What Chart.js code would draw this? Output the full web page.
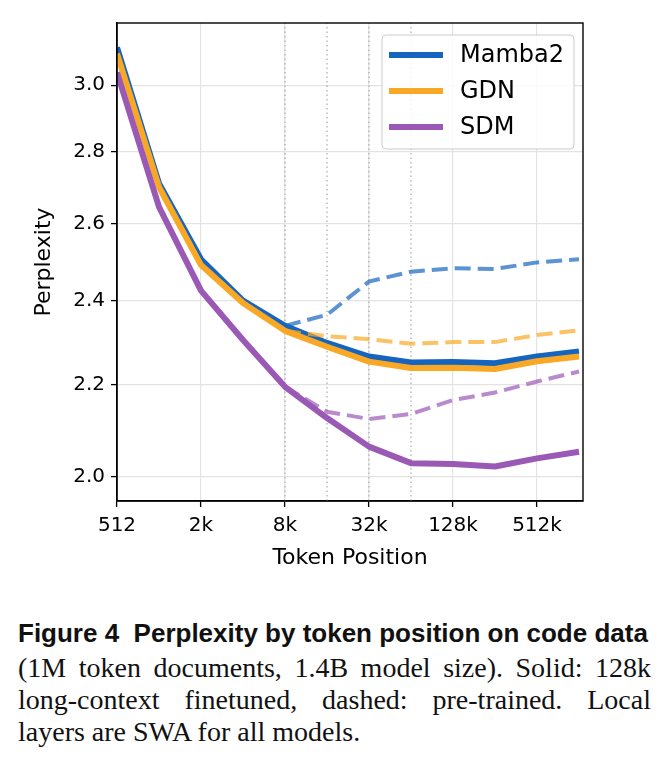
<!DOCTYPE html>
<html>
<head>
<meta charset="utf-8">
<script src="https://cdn.jsdelivr.net/npm/chart.js@4.4.1/dist/chart.umd.min.js"></script>
<style>
  html, body { margin: 0; padding: 0; background: #fff; }
  body { width: 668px; height: 763px; position: relative; overflow: hidden; }
  #chart { position: absolute; left: 0; top: 0; }
  .caption { position: absolute; left: 18px; width: 633px; color: #111; }
  .cap-title { top: 618px; font-family: 'Liberation Sans', Arial, sans-serif; font-weight: bold; font-size: 26px; white-space: pre; line-height: 30px; }
  .cap-body { top: 652px; font-family: 'Liberation Serif', 'Times New Roman', serif; font-size: 28px; line-height: 32px; }
  .cap-body div { text-align: justify; text-align-last: justify; white-space: nowrap; }
  .cap-body div.last { text-align-last: left; }
</style>
</head>
<body>
<canvas id="chart" width="668" height="590"></canvas>
<div class="caption cap-title">Figure 4  Perplexity by token position on code data</div>
<div class="caption cap-body">
  <div>(1M token documents, 1.4B model size). Solid: 128k</div>
  <div>long-context finetuned, dashed: pre-trained. Local</div>
  <div class="last">layers are SWA for all models.</div>
</div>
<script>
// posiciones de token (eje x, log2)
const positions = [512, 1024, 2048, 4096, 8192, 16384, 32768, 65536, 131072, 262144, 524288, 1048576];
// curvas finetuned (sólidas)
const mamba2Solid = [3.12, 2.71, 2.505, 2.400, 2.338, 2.297, 2.265, 2.251, 2.252, 2.249, 2.265, 2.277];
const gdnSolid    = [3.10, 2.70, 2.490, 2.394, 2.326, 2.288, 2.253, 2.238, 2.239, 2.236, 2.254, 2.265];
const sdmSolid    = [3.04, 2.645, 2.425, 2.304, 2.195, 2.125, 2.063, 2.028, 2.026, 2.021, 2.038, 2.052];
// curvas pre-entrenadas (discontinuas), desde 8k
const dashPositions = [8192, 16384, 32768, 65536, 131072, 262144, 524288, 1048576];
const mamba2Dashed = [2.338, 2.365, 2.448, 2.473, 2.482, 2.480, 2.497, 2.505];
const gdnDashed    = [2.326, 2.313, 2.306, 2.295, 2.299, 2.299, 2.316, 2.327];
const sdmDashed    = [2.195, 2.139, 2.123, 2.134, 2.165, 2.182, 2.207, 2.230];
// líneas punteadas verticales
const markerPositions = [8192, 16384, 32768, 65536];

const xTickValues = [512, 2048, 8192, 32768, 131072, 524288];
const xTickLabels = ['512', '2k', '8k', '32k', '128k', '512k'];
const yTickValues = [2.0, 2.2, 2.4, 2.6, 2.8, 3.0];
const yMin = 1.95, yMax = 3.2;
const xMin = 512, xMax = 1.12e6;

const seriesNames = ['Mamba2', 'GDN', 'SDM'];

const colors = {
    mamba2: '#1565c0',
    gdn: '#f9a825',
    sdm: '#9b59b6',
    mamba2Light: 'rgba(21, 101, 192, 0.7)',
    gdnLight: 'rgba(249, 168, 37, 0.7)',
    sdmLight: 'rgba(155, 89, 182, 0.7)'
};
const legendColors = [colors.mamba2, colors.gdn, colors.sdm];

function toPoints(xs, ys) {
    return xs.map((x, i) => ({ x: x, y: ys[i] }));
}

function solid(label, xs, ys, color, order) {
    return {
        label: label,
        data: toPoints(xs, ys),
        borderColor: color,
        borderWidth: 6,
        pointRadius: 0,
        borderJoinStyle: 'round',
        borderCapStyle: 'butt',
        tension: 0,
        order: order
    };
}

function dashed(label, xs, ys, color, order) {
    return {
        label: label,
        data: toPoints(xs, ys),
        borderColor: color,
        borderWidth: 4,
        borderDash: [16, 7],
        pointRadius: 0,
        borderCapStyle: 'butt',
        tension: 0,
        order: order
    };
}

const datasets = [];
markerPositions.forEach((p, i) => {
    datasets.push({
        label: 'marker' + i,
        data: [{ x: p, y: yMin }, { x: p, y: yMax }],
        borderColor: '#b0b0b0',
        borderWidth: 1.3,
        borderDash: [1.5, 3],
        pointRadius: 0,
        order: 20
    });
});
datasets.push(solid('Mamba2', positions, mamba2Solid, colors.mamba2, 9));
datasets.push(solid('GDN', positions, gdnSolid, colors.gdn, 8));
datasets.push(solid('SDM', positions, sdmSolid, colors.sdm, 7));
datasets.push(dashed('Mamba2 pre', dashPositions, mamba2Dashed, colors.mamba2Light, 6));
datasets.push(dashed('GDN pre', dashPositions, gdnDashed, colors.gdnLight, 5));
datasets.push(dashed('SDM pre', dashPositions, sdmDashed, colors.sdmLight, 4));

// marco negro y leyenda al estilo matplotlib
const framePlugin = {
    id: 'frameAndLegend',
    afterDraw(chart) {
        const ctx = chart.ctx;
        const a = chart.chartArea;
        ctx.save();
        ctx.strokeStyle = '#000';
        ctx.lineWidth = 1.4;
        ctx.strokeRect(a.left, a.top, a.right - a.left, a.bottom - a.top);

        const bx = 382, by = 35, bw = 192, bh = 114;
        ctx.beginPath();
        ctx.roundRect(bx, by, bw, bh, 4);
        ctx.fillStyle = 'rgba(255,255,255,0.85)';
        ctx.fill();
        ctx.strokeStyle = '#cccccc';
        ctx.lineWidth = 1;
        ctx.stroke();

        ctx.font = '24px "DejaVu Sans"';
        ctx.textBaseline = 'middle';
        seriesNames.forEach((name, i) => {
            const y = 55 + i * 36;
            ctx.beginPath();
            ctx.moveTo(389, y);
            ctx.lineTo(443, y);
            ctx.strokeStyle = legendColors[i];
            ctx.lineWidth = 6;
            ctx.stroke();
            ctx.fillStyle = '#000';
            ctx.fillText(name, 460, y + 1);
        });
        ctx.restore();
    }
};

const ctx = document.getElementById('chart').getContext('2d');
new Chart(ctx, {
    type: 'line',
    data: { datasets: datasets },
    options: {
        responsive: false,
        animation: false,
        devicePixelRatio: 1,
        layout: { padding: { left: 0, top: 23, right: 85, bottom: 0 } },
        plugins: {
            legend: { display: false },
            tooltip: { enabled: false }
        },
        scales: {
            x: {
                type: 'logarithmic',
                min: xMin,
                max: xMax,
                afterBuildTicks: (axis) => { axis.ticks = xTickValues.map(v => ({ value: v })); },
                afterFit: (scale) => { scale.height = 89; },
                ticks: {
                    autoSkip: false,
                    maxRotation: 0,
                    color: '#000',
                    padding: 7,
                    font: { family: 'DejaVu Sans', size: 20 },
                    callback: (value, index) => xTickLabels[index]
                },
                grid: {
                    color: '#e3e3e3',
                    lineWidth: 1.2,
                    tickColor: '#000',
                    tickLength: 6,
                    tickWidth: 1.3
                },
                border: { color: '#000', width: 1.4 },
                title: {
                    display: true,
                    text: 'Token Position',
                    color: '#000',
                    font: { family: 'DejaVu Sans', size: 22 },
                    padding: { top: 2, bottom: 19 }
                }
            },
            y: {
                type: 'logarithmic',
                min: yMin,
                max: yMax,
                afterBuildTicks: (axis) => { axis.ticks = yTickValues.map(v => ({ value: v })); },
                afterFit: (scale) => { scale.width = 117; },
                ticks: {
                    autoSkip: false,
                    color: '#000',
                    padding: 6,
                    font: { family: 'DejaVu Sans', size: 20 },
                    callback: (value) => Number(value).toFixed(1)
                },
                grid: {
                    color: '#e3e3e3',
                    lineWidth: 1.2,
                    tickColor: '#000',
                    tickLength: 6,
                    tickWidth: 1.3
                },
                border: { color: '#000', width: 1.4 },
                title: {
                    display: true,
                    text: 'Perplexity',
                    color: '#000',
                    font: { family: 'DejaVu Sans', size: 22 },
                    padding: { top: 31, bottom: 0 }
                }
            }
        }
    },
    plugins: [framePlugin]
});
</script>
</body>
</html>
